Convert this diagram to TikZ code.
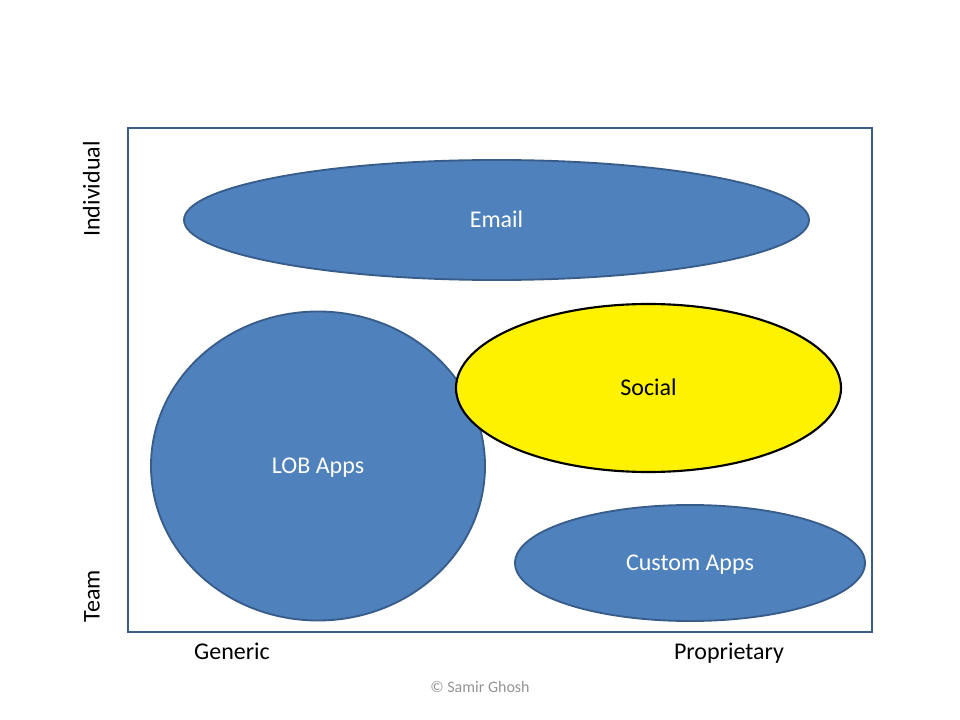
\documentclass[tikz,border=0pt]{standalone}
\usepackage{fontspec}
\setmainfont{Carlito}
\usetikzlibrary{shapes.geometric}
\definecolor{appblue}{HTML}{4F81BD}
\definecolor{appedge}{HTML}{385D8A}
\definecolor{framecol}{HTML}{3A5F87}

\begin{document}
\begin{tikzpicture}[x=0.75pt,y=-0.75pt,
	app/.style = {ellipse, draw=appedge, fill=appblue, line width=1.4pt,
		inner sep=0pt, text=white, font=\fontsize{18}{22}\selectfont,
		text height=11.5pt, text depth=0pt},
	axis/.style = {font=\fontsize{18}{22}\selectfont, text=black,
		text height=11.5pt, text depth=0pt}]
	\useasboundingbox (0,0) rectangle (960,720);
	\draw[framecol, line width=2.2pt] (128,128) rectangle (872,632);
	% the four areas
	\node[app, minimum width=468.75pt, minimum height=90pt] (email) at (496.5,220) {Email};
	\node[app, minimum width=250.5pt, minimum height=231.75pt] (lob) at (318,466) {LOB Apps};
	\node[app, fill=yellow, draw=black, text=black, line width=1.6pt, minimum width=288.75pt,
		minimum height=126pt] (social) at (648.5,388) {Social};
	\node[app, minimum width=262.5pt, minimum height=87pt] (custom) at (690,563) {Custom Apps};
	% axes
	\node[axis, rotate=90] (individual) at (92,189) {Individual};
	\node[axis, rotate=90] (team) at (92,596) {Team};
	\node[axis] (generic) at (232,652) {Generic};
	\node[axis] (proprietary) at (729,652) {Proprietary};
	\node[font=\fontsize{12}{14}\selectfont, text=gray!85] (copy) at (480,687) {© Samir Ghosh};
\end{tikzpicture}
\end{document}
